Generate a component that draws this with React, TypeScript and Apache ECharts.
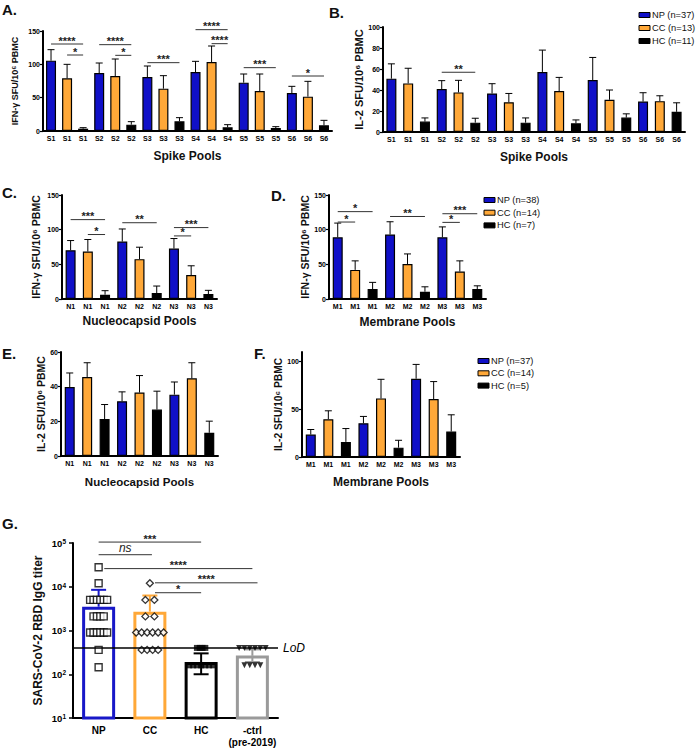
import React, { useEffect, useRef } from 'react';
import * as echarts from 'echarts';

const FONT = '"Liberation Sans", Arial, Helvetica, sans-serif';
const GROUP_COLORS = ['#1010c8', '#ffa838', '#000000'];
const G_COLORS = ['#1818c8', '#ffa838', '#000000', '#9a9a9a'];

// ---------- Panel A: IFN-gamma, spike pools
const spikePools = ['S1', 'S2', 'S3', 'S4', 'S5', 'S6'];
const aNpMean = [105.5, 87, 81, 88.5, 72.5, 57];
const aNpSem = [16.5, 15, 16.5, 16, 13, 10];
const aCcMean = [79, 82.5, 63.5, 103.5, 60, 51.5];
const aCcSem = [21, 25.5, 19.5, 24, 25.5, 23];
const aHcMean = [3.5, 9.5, 14.5, 5.5, 4.5, 8.5];
const aHcSem = [1.5, 4.5, 5.5, 4, 2, 7.5];
const aSig: [number, number, number, string][] = [
  [0, 2, 130.5, '****'], [1, 2, 114, '*'], [3, 5, 129.5, '****'], [4, 5, 113.5, '*'],
  [6, 8, 102.5, '***'], [9, 11, 152, '****'], [10, 11, 131, '****'], [12, 14, 95, '***'], [15, 17, 82.5, '*'],
];

// ---------- Panel B: IL-2, spike pools
const bNpMean = [50.8, 40.9, 36.7, 57.2, 49.5, 29];
const bNpSem = [14.1, 8, 9.3, 20.8, 21.5, 8.4];
const bCcMean = [46.3, 37.7, 28.4, 39, 30.7, 29.4];
const bCcSem = [14.4, 11.5, 8.3, 13, 9.3, 5.1];
const bHcMean = [9.9, 8.9, 8.9, 8.3, 13.7, 19.2];
const bHcSem = [3.5, 4.2, 4.5, 3.2, 3.6, 8.6];
const bSig: [number, number, number, string][] = [[3, 5, 56.9, '**']];
const bLegend = ['NP (n=37)', 'CC (n=13)', 'HC (n=11)'];

// ---------- Panel C: IFN-gamma, nucleocapsid pools
const nucPools = ['N1', 'N2', 'N3'];
const cNpMean = [70.4, 82.9, 72.8];
const cNpSem = [13.9, 18.1, 14.4];
const cCcMean = [68.5, 57.5, 34.5];
const cCcSem = [17.3, 17.2, 13.4];
const cHcMean = [6.2, 8.6, 7.2];
const cHcSem = [5.8, 10.1, 5.3];
const cSig: [number, number, number, string][] = [
  [0, 2, 114.5, '***'], [1, 2, 93, '*'], [3, 5, 110, '**'], [6, 8, 103, '***'], [6, 7, 91, '*'],
];

// ---------- Panel D: IFN-gamma, membrane pools
const memPools = ['M1', 'M2', 'M3'];
const dNpMean = [89, 93, 89];
const dNpSem = [20.5, 18.4, 15];
const dCcMean = [42, 50.5, 39.5];
const dCcSem = [13, 14.5, 15.5];
const dHcMean = [14.3, 10.5, 14.3];
const dHcSem = [9.7, 7.1, 4.7];
const dSig: [number, number, number, string][] = [
  [0, 2, 126, '*'], [0, 1, 111, '*'], [3, 5, 119, '**'], [6, 8, 123, '***'], [6, 7, 110.5, '*'],
];
const dLegend = ['NP (n=38)', 'CC (n=14)', 'HC (n=7)'];

// ---------- Panel E: IL-2, nucleocapsid pools
const eNpMean = [39.8, 31.6, 35.4];
const eNpSem = [8.1, 5.4, 7.3];
const eCcMean = [45.6, 36.6, 44.8];
const eCcSem = [8.2, 9.8, 9];
const eHcMean = [21.3, 26.8, 13.4];
const eHcSem = [8.4, 10.6, 6.7];

// ---------- Panel F: IL-2, membrane pools
const fNpMean = [23.5, 35.4, 82];
const fNpSem = [5.3, 7.1, 15];
const fCcMean = [39.6, 61.4, 60.7];
const fCcSem = [8.8, 20, 18.3];
const fHcMean = [15.8, 9.8, 26.7];
const fHcSem = [14, 7.7, 17.5];
const fLegend = ['NP (n=37)', 'CC (n=14)', 'HC (n=5)'];

// ---------- Panel G: RBD IgG titers
const gCategories = ['NP', 'CC', 'HC', '-ctrl\n(pre-2019)'];
const gMeans = [3500, 2700, 190, 270];
const gLower = [3500, 2700, 100, 190];
const gUpper = [8500, 6300, 300, 370];
const gNpTiters = [28000, 12000, 5000, 5000, 5000, 5000, 5000, 5000, 2100, 2100, 2100, 2100, 900, 900, 900, 900, 900, 900, 360, 145];
const gCcTiters = [12000, 5000, 5000, 2100, 2100, 900, 900, 900, 900, 900, 900, 360, 360, 360, 360];
const gHcTiters = [400, 400, 400, 400, 160, 160, 160, 160, 160, 160, 160];
const gCtrlTiters = [400, 400, 400, 400, 400, 400, 160, 160, 160, 160];
const gLoD = 400;
const gSig: [number, number, number, string][] = [
  [0, 2, 105000, '***'], [0, 1.04, 54000, 'ns'], [0.11, 3, 26000, '****'], [1.1, 3.1, 12300, '****'], [1.1, 2, 7300, '*'],
];

type Sig = [number, number, number, string];

function bracketSeries(sig: Sig[], axisIdx: number) {
  return {
    type: 'custom',
    xAxisIndex: axisIdx,
    yAxisIndex: axisIdx,
    clip: false,
    silent: true,
    z: 6,
    data: sig.map((s) => [0, s[2]]),
    encode: { x: 0, y: 1 },
    renderItem: (params: any, api: any) => {
      const s = sig[params.dataIndex];
      const o = api.coord([0, s[2]]);
      const bw = api.size([1, 0], [0, s[2]])[0];
      const x1 = o[0] + s[0] * bw;
      const x2 = o[0] + s[1] * bw;
      const y = o[1];
      const ns = s[3] === 'ns';
      return {
        type: 'group',
        children: [
          { type: 'line', shape: { x1, y1: y, x2, y2: y }, style: { stroke: '#333', lineWidth: 1 } },
          {
            type: 'text',
            x: (x1 + x2) / 2,
            y: ns ? y - 1 : y + 2,
            style: {
              text: s[3],
              align: 'center',
              verticalAlign: 'bottom',
              fontSize: ns ? 12 : 11,
              fontWeight: ns ? 'normal' : 'bold',
              fontStyle: ns ? 'italic' : 'normal',
              fontFamily: FONT,
              fill: '#222',
            },
          },
        ],
      };
    },
  };
}

function errorSeries(rows: number[][], colors: string[], axisIdx: number, capW: number, lw: number) {
  return {
    type: 'custom',
    xAxisIndex: axisIdx,
    yAxisIndex: axisIdx,
    clip: false,
    silent: true,
    z: 3,
    data: rows,
    encode: { x: 0, y: 1 },
    renderItem: (params: any, api: any) => {
      const r = rows[params.dataIndex];
      const i = r[0];
      const pm = api.coord([i, r[1]]);
      const ph = api.coord([i, r[3]]);
      const pl = api.coord([i, r[2]]);
      const stroke = colors[params.dataIndex];
      const st = { stroke, lineWidth: lw };
      const h = capW / 2;
      const children: any[] = [
        { type: 'line', shape: { x1: pm[0], y1: pm[1], x2: ph[0], y2: ph[1] }, style: st },
        { type: 'line', shape: { x1: ph[0] - h, y1: ph[1], x2: ph[0] + h, y2: ph[1] }, style: st },
      ];
      if (r[2] < r[1]) {
        children.push({ type: 'line', shape: { x1: pm[0], y1: pm[1], x2: pl[0], y2: pl[1] }, style: st });
        children.push({ type: 'line', shape: { x1: pl[0] - h, y1: pl[1], x2: pl[0] + h, y2: pl[1] }, style: st });
      }
      return { type: 'group', children };
    },
  };
}

interface PanelSpec {
  pools: string[];
  np: number[]; npSem: number[];
  cc: number[]; ccSem: number[];
  hc: number[]; hcSem: number[];
  sig: Sig[];
  left: number; top: number; width: number; height: number;
  yMax: number; yInterval: number; hideMax?: boolean;
  yName: string; yNameSize: number; yNameGap: number;
  xName: string; xNameSize: number; xNameGap: number;
}

const panels: PanelSpec[] = [
  { pools: spikePools, np: aNpMean, npSem: aNpSem, cc: aCcMean, ccSem: aCcSem, hc: aHcMean, hcSem: aHcSem, sig: aSig,
    left: 43, top: 31, width: 289, height: 100, yMax: 150, yInterval: 50,
    yName: 'IFN-γ SFU/10⁶ PBMC', yNameSize: 9, yNameGap: 24, xName: 'Spike Pools', xNameSize: 12, xNameGap: 19 },
  { pools: spikePools, np: bNpMean, npSem: bNpSem, cc: bCcMean, ccSem: bCcSem, hc: bHcMean, hcSem: bHcSem, sig: bSig,
    left: 383, top: 27, width: 302, height: 105, yMax: 100, yInterval: 20,
    yName: 'IL-2 SFU/10⁶ PBMC', yNameSize: 11, yNameGap: 14, xName: 'Spike Pools', xNameSize: 12, xNameGap: 19 },
  { pools: nucPools, np: cNpMean, npSem: cNpSem, cc: cCcMean, ccSem: cCcSem, hc: cHcMean, hcSem: cHcSem, sig: cSig,
    left: 62, top: 195, width: 155, height: 104, yMax: 150, yInterval: 50,
    yName: 'IFN-γ SFU/10⁶ PBMC', yNameSize: 10.5, yNameGap: 21, xName: 'Nucleocapsid Pools', xNameSize: 12, xNameGap: 16 },
  { pools: memPools, np: dNpMean, npSem: dNpSem, cc: dCcMean, ccSem: dCcSem, hc: dHcMean, hcSem: dHcSem, sig: dSig,
    left: 329, top: 195, width: 157, height: 104, yMax: 150, yInterval: 50,
    yName: 'IFN-γ SFU/10⁶ PBMC', yNameSize: 10.5, yNameGap: 15, xName: 'Membrane Pools', xNameSize: 12, xNameGap: 17 },
  { pools: nucPools, np: eNpMean, npSem: eNpSem, cc: eCcMean, ccSem: eCcSem, hc: eHcMean, hcSem: eHcSem, sig: [],
    left: 61, top: 352, width: 157, height: 104, yMax: 60, yInterval: 20,
    yName: 'IL-2 SFU/10⁶ PBMC', yNameSize: 10.5, yNameGap: 14, xName: 'Nucleocapsid Pools', xNameSize: 11.5, xNameGap: 20 },
  { pools: memPools, np: fNpMean, npSem: fNpSem, cc: fCcMean, ccSem: fCcSem, hc: fHcMean, hcSem: fHcSem, sig: [],
    left: 302, top: 352, width: 158, height: 105, yMax: 110, yInterval: 50, hideMax: true,
    yName: 'IL-2 SFU/10⁶ PBMC', yNameSize: 10.2, yNameGap: 13, xName: 'Membrane Pools', xNameSize: 12, xNameGap: 19 },
];

function jitter(values: number[], cat: number, narrow: number, wide: number) {
  const counts = new Map<number, number>();
  values.forEach((v) => counts.set(v, (counts.get(v) || 0) + 1));
  const seen = new Map<number, number>();
  return values.map((v) => {
    const k = counts.get(v) as number;
    const j = seen.get(v) || 0;
    seen.set(v, j + 1);
    const sp = k <= 2 ? wide : narrow;
    return { value: [cat, v], symbolOffset: [(j - (k - 1) / 2) * sp, 0] };
  });
}

function legendGraphic(labels: string[], x: number, y0: number, dy: number) {
  const children: any[] = [];
  labels.forEach((t, k) => {
    const y = y0 + k * dy;
    children.push({ type: 'rect', shape: { x, y: y - 2.5, width: 11, height: 5 }, style: { fill: GROUP_COLORS[k], stroke: '#000', lineWidth: 1 } });
    children.push({ type: 'text', x: x + 13, y, style: { text: t, fontSize: 9.3, fontFamily: FONT, fill: '#111', verticalAlign: 'middle' } });
  });
  return { type: 'group', children };
}

function buildOption() {
  const grid: any[] = [];
  const xAxis: any[] = [];
  const yAxis: any[] = [];
  const series: any[] = [];

  panels.forEach((p, idx) => {
    const cats: string[] = [];
    const bars: any[] = [];
    const errs: number[][] = [];
    const errColors: string[] = [];
    p.pools.forEach((pool, j) => {
      const means = [p.np[j], p.cc[j], p.hc[j]];
      const sems = [p.npSem[j], p.ccSem[j], p.hcSem[j]];
      means.forEach((m, k) => {
        const i = cats.length;
        cats.push(`${pool}|${k}`);
        bars.push({ value: m, itemStyle: { color: GROUP_COLORS[k] } });
        errs.push([i, m, m, m + sems[k]]);
        errColors.push('#000');
      });
    });
    grid.push({ left: p.left, top: p.top, width: p.width, height: p.height });
    xAxis.push({
      type: 'category', gridIndex: idx, data: cats,
      axisLine: { lineStyle: { color: '#000', width: 2 } },
      axisTick: { alignWithLabel: true, length: 3, lineStyle: { color: '#000', width: 1.2 } },
      axisLabel: { interval: 0, formatter: (v: string) => v.split('|')[0], fontSize: 7, fontWeight: 'bold', color: '#000', fontFamily: FONT, margin: 4 },
      name: p.xName, nameLocation: 'middle', nameGap: p.xNameGap,
      nameTextStyle: { fontSize: p.xNameSize, fontWeight: 'bold', color: '#111', fontFamily: FONT },
    });
    yAxis.push({
      type: 'value', gridIndex: idx, min: 0, max: p.yMax, interval: p.yInterval,
      splitLine: { show: false },
      axisLine: { show: true, lineStyle: { color: '#000', width: 2 } },
      axisTick: { show: true, length: 3, lineStyle: { color: '#000', width: 1.2 } },
      axisLabel: { fontSize: 7, fontWeight: 'bold', color: '#000', fontFamily: FONT, margin: 3, showMaxLabel: !p.hideMax },
      name: p.yName, nameLocation: 'middle', nameGap: p.yNameGap,
      nameTextStyle: { fontSize: p.yNameSize, fontWeight: 'bold', color: '#111', fontFamily: FONT },
    });
    series.push({
      type: 'bar', xAxisIndex: idx, yAxisIndex: idx, data: bars, barWidth: 10,
      itemStyle: { borderColor: '#000', borderWidth: 1.2 }, z: 2,
    });
    series.push(errorSeries(errs, errColors, idx, 7, 1));
    if (p.sig.length) series.push(bracketSeries(p.sig, idx));
  });

  // ---- Panel G
  const gi = panels.length;
  grid.push({ left: 73, top: 543, width: 205, height: 175 });
  xAxis.push({
    type: 'category', gridIndex: gi, data: gCategories,
    axisLine: { lineStyle: { color: '#000', width: 2 } },
    axisTick: { alignWithLabel: true, length: 4, lineStyle: { color: '#000', width: 1.5 } },
    axisLabel: { interval: 0, fontSize: 10, fontWeight: 'bold', color: '#000', fontFamily: FONT, margin: 7, lineHeight: 11.5 },
  });
  yAxis.push({
    type: 'log', logBase: 10, gridIndex: gi, min: 10, max: 100000,
    splitLine: { show: false },
    axisLine: { show: true, lineStyle: { color: '#000', width: 2 } },
    axisTick: { show: true, length: 4, lineStyle: { color: '#000', width: 1.5 } },
    axisLabel: {
      margin: 7,
      formatter: (v: number) => `{b|10}{s|${Math.round(Math.log10(v))}}`,
      rich: {
        b: { fontSize: 9.5, fontWeight: 'bold', color: '#000', fontFamily: FONT },
        s: { fontSize: 6.5, fontWeight: 'bold', color: '#000', fontFamily: FONT, verticalAlign: 'top' },
      },
    },
    name: 'SARS-CoV-2 RBD IgG titer', nameLocation: 'middle', nameGap: 29,
    nameTextStyle: { fontSize: 12, fontWeight: 'bold', color: '#111', fontFamily: FONT },
  });
  series.push({
    type: 'bar', xAxisIndex: gi, yAxisIndex: gi, barWidth: 33, z: 2,
    data: gMeans.map((m, k) => ({ value: m, itemStyle: { color: 'rgba(255,255,255,0)', borderColor: G_COLORS[k], borderWidth: 3 } })),
    markLine: {
      silent: true, symbol: 'none', z: 5,
      data: [{ yAxis: gLoD }],
      lineStyle: { color: '#000', width: 1.6, type: 'solid' },
      label: { position: 'end', formatter: 'LoD', fontStyle: 'italic', fontSize: 12, color: '#000', fontFamily: FONT, distance: 5 },
    },
  });
  series.push(errorSeries(gMeans.map((m, k) => [k, m, gLower[k], gUpper[k]]), G_COLORS, gi, 15, 2));
  series.push({
    type: 'scatter', xAxisIndex: gi, yAxisIndex: gi, symbol: 'rect', symbolSize: 7, z: 4,
    itemStyle: { color: '#fff', borderColor: '#000', borderWidth: 1.4 },
    data: jitter(gNpTiters, 0, 3.4, 4),
  });
  series.push({
    type: 'scatter', xAxisIndex: gi, yAxisIndex: gi, symbol: 'diamond', symbolSize: 7, z: 4,
    itemStyle: { color: '#fff', borderColor: '#000', borderWidth: 1.3 },
    data: jitter(gCcTiters, 1, 5.5, 9),
  });
  series.push({
    type: 'scatter', xAxisIndex: gi, yAxisIndex: gi, symbol: 'rect', symbolSize: 6, z: 4,
    itemStyle: { color: '#000' },
    data: jitter(gHcTiters, 2, 4, 4).map((d, i) => (gHcTiters[i] === gLoD ? { ...d, symbolOffset: [(d.symbolOffset[0] as number) * 0.7, 0] } : d)),
  });
  series.push({
    type: 'scatter', xAxisIndex: gi, yAxisIndex: gi, symbol: 'triangle', symbolRotate: 180, symbolSize: 6, z: 4,
    itemStyle: { color: '#000' },
    data: jitter(gCtrlTiters, 3, 5.3, 5.3),
  });
  series.push(bracketSeries(gSig, gi));

  const letter = (t: string, left: number, top: number) => ({
    type: 'text', left, top, style: { text: t, fontSize: 15, fontWeight: 'bold', fontFamily: FONT, fill: '#111' },
  });

  return {
    animation: false,
    backgroundColor: '#fff',
    textStyle: { fontFamily: FONT },
    grid, xAxis, yAxis, series,
    graphic: [
      letter('A.', 2, 2), letter('B.', 329, 5), letter('C.', 2, 185), letter('D.', 271, 188),
      letter('E.', 2, 346), letter('F.', 254, 346), letter('G.', 2, 516),
      legendGraphic(bLegend, 639, 15, 13),
      legendGraphic(dLegend, 484, 200, 12.7),
      legendGraphic(fLegend, 478, 361, 12.3),
    ],
  };
}

export default function App() {
  const ref = useRef<HTMLDivElement>(null);
  useEffect(() => {
    if (!ref.current) return;
    const chart = echarts.init(ref.current, undefined, { renderer: 'svg' });
    chart.setOption(buildOption() as any);
    return () => chart.dispose();
  }, []);
  return <div ref={ref} style={{ position: 'absolute', left: 0, top: 0, width: 696, height: 749, background: '#fff' }} />;
}
